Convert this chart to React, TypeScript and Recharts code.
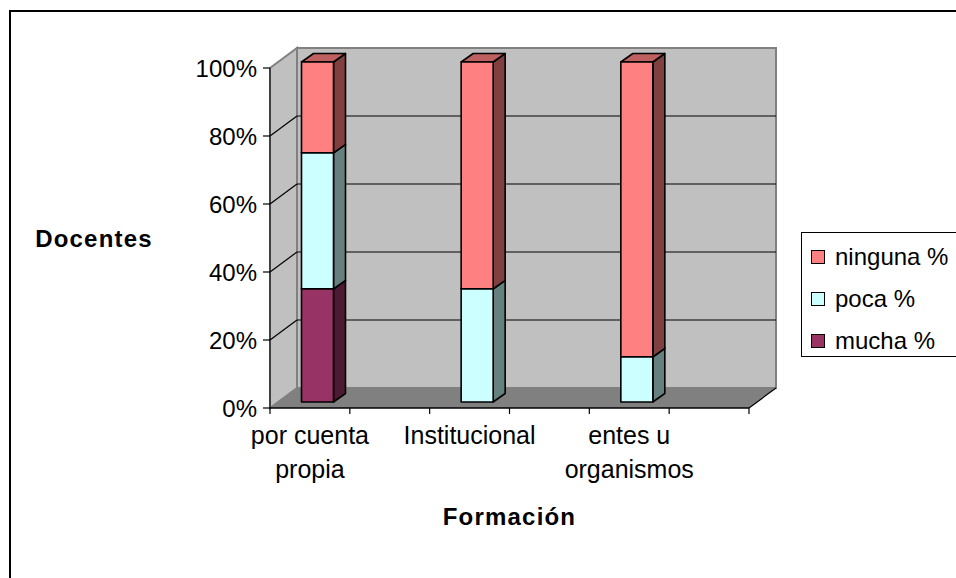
import React from 'react';
import { BarChart, Bar, XAxis, YAxis, CartesianGrid, Legend } from 'recharts';

// blank columns between the three groups, as in the source sheet
const categories = ['por cuenta propia', '', 'Institucional', '', 'entes u organismos', ''];
const mucha = [33.3, null, 0, null, 0, null];
const poca = [40, null, 33.3, null, 13.3, null];
const ninguna = [26.7, null, 66.7, null, 86.7, null];
const yTicks = [0, 20, 40, 60, 80, 100];

const series = [
  { key: 'mucha', name: 'mucha %', front: '#993366', side: '#4D1A33', top: '#73264D' },
  { key: 'poca', name: 'poca %', front: '#CCFFFF', side: '#668080', top: '#99BFBF' },
  { key: 'ninguna', name: 'ninguna %', front: '#FF8080', side: '#804040', top: '#BF6060' },
];

const data = categories.map((name, i) => ({
  name,
  mucha: mucha[i],
  poca: poca[i],
  ninguna: ninguna[i],
}));

const W = 956;
const H = 578;
const PLOT = { left: 270, right: 749, top: 68, bottom: 408 };
const DEPTH = { dx: 27, dy: -20 };
const FRONT = { dx: 7.5, dy: -6 }; // bar front face sits a little behind the axis plane
const BAR_DEPTH = { dx: 12, dy: -8.5 };
const FONT = '"Liberation Sans", Arial, sans-serif';
const FS = 24;

function Bar3D(props: any) {
  const { x, y, width, height, s } = props;
  if (x == null || !height || height <= 0) return null;
  const fx = x + FRONT.dx;
  const fy = y + FRONT.dy;
  const w = width;
  const h = height;
  const { dx, dy } = BAR_DEPTH;
  const stroke = { stroke: '#000', strokeWidth: 1.6, strokeLinejoin: 'round' as const };
  return (
    <g>
      <polygon points={`${fx + w},${fy} ${fx + w + dx},${fy + dy} ${fx + w + dx},${fy + h + dy} ${fx + w},${fy + h}`} fill={s.side} {...stroke} />
      <polygon points={`${fx},${fy} ${fx + dx},${fy + dy} ${fx + w + dx},${fy + dy} ${fx + w},${fy}`} fill={s.top} {...stroke} />
      <rect x={fx} y={fy} width={w} height={h} fill={s.front} {...stroke} />
    </g>
  );
}

function XTick(props: any) {
  const { x, y, payload, index } = props;
  const half = payload?.offset || (PLOT.right - PLOT.left) / categories.length / 2;
  const words = String(payload.value || '').split(' ');
  const lines: string[] = [];
  words.forEach((wd) => {
    const last = lines[lines.length - 1];
    if (last !== undefined && (last + ' ' + wd).length <= 12) lines[lines.length - 1] = last + ' ' + wd;
    else if (wd) lines.push(wd);
  });
  const isLast = index === categories.length - 1;
  return (
    <g>
      <line x1={x - half} x2={x - half} y1={y} y2={y + 6} stroke="#000" strokeWidth={1.2} />
      {isLast && <line x1={x + half} x2={x + half} y1={y} y2={y + 6} stroke="#000" strokeWidth={1.2} />}
      <text x={x} y={y + 36} textAnchor="middle" fontSize={25} fill="#000">
        {lines.map((l, i) => (
          <tspan key={i} x={x} dy={i === 0 ? 0 : 34}>
            {l}
          </tspan>
        ))}
      </text>
    </g>
  );
}

function YTick(props: any) {
  const { x, y, payload } = props;
  const inner = payload.value > 0 && payload.value < 100;
  return (
    <g>
      <line x1={x - 7} x2={x} y1={y} y2={y} stroke="#000" strokeWidth={1.2} />
      {inner && <line x1={x} y1={y} x2={x + DEPTH.dx} y2={y + DEPTH.dy} stroke="#000" strokeWidth={1.2} />}
      <text x={x - 13} y={y} dy="0.36em" textAnchor="end" fontSize={FS} fill="#000">
        {payload.value}%
      </text>
    </g>
  );
}

function LegendBox(props: any) {
  const order = series.map((s) => s.name);
  const items = [...(props.payload || [])].sort((a: any, b: any) => order.indexOf(b.value) - order.indexOf(a.value));
  return (
    <div
      style={{
        border: '1.5px solid #000',
        background: '#fff',
        height: 125,
        boxSizing: 'border-box',
        paddingTop: 3,
        fontFamily: FONT,
        fontSize: FS,
        color: '#000',
      }}
    >
      {items.map((it: any) => (
        <div key={it.value} style={{ display: 'flex', alignItems: 'center', height: 42 }}>
          <span
            style={{
              display: 'inline-block',
              width: 12,
              height: 12,
              marginLeft: 9,
              marginRight: 10,
              background: it.color,
              border: '1.5px solid #000',
            }}
          />
          <span>{it.value}</span>
        </div>
      ))}
    </div>
  );
}

function Walls() {
  const { left, right, top, bottom } = PLOT;
  const { dx, dy } = DEPTH;
  return (
    <svg width={W} height={H} style={{ position: 'absolute', left: 0, top: 0 }}>
      <rect x={left + dx} y={top + dy} width={right - left} height={bottom - top} fill="#C0C0C0" stroke="#808080" strokeWidth={2} />
      <polygon
        points={`${left},${top} ${left + dx},${top + dy} ${left + dx},${bottom + dy} ${left},${bottom}`}
        fill="#C0C0C0"
        stroke="#808080"
        strokeWidth={2}
      />
      <polygon points={`${left},${bottom} ${right},${bottom} ${right + dx},${bottom + dy} ${left + dx},${bottom + dy}`} fill="#808080" />
      <line x1={right} y1={bottom} x2={right + dx} y2={bottom + dy} stroke="#000" strokeWidth={1.2} />
    </svg>
  );
}

export default function App() {
  return (
    <div style={{ position: 'absolute', left: 0, top: 0, width: W, height: H, overflow: 'hidden', background: '#fff' }}>
      <div style={{ position: 'absolute', left: 9, top: 10, width: 1200, height: 1000, border: '2px solid #000' }} />
      <Walls />
      <div style={{ position: 'absolute', left: 0, top: 0 }}>
        <BarChart
          width={W}
          height={H}
          data={data}
          margin={{ top: PLOT.top, right: W - PLOT.right, bottom: 0, left: 0 }}
          style={{ fontFamily: FONT }}
        >
          <CartesianGrid
            vertical={false}
            horizontalValues={[20, 40, 60, 80]}
            horizontal={(p: any) =>
              p.y1 <= PLOT.top + 1 || p.y1 >= PLOT.bottom - 1 ? (
                <g key={p.key} />
              ) : (
                <line
                  key={p.key}
                  x1={p.x1 + DEPTH.dx}
                  x2={p.x2 + DEPTH.dx}
                  y1={p.y1 + DEPTH.dy}
                  y2={p.y2 + DEPTH.dy}
                  stroke="#000"
                  strokeWidth={1.2}
                />
              )
            }
          />
          <XAxis
            dataKey="name"
            interval={0}
            height={H - PLOT.bottom}
            tickSize={0}
            tickMargin={0}
            tickLine={false}
            axisLine={{ stroke: '#000', strokeWidth: 1.5 }}
            tick={<XTick />}
            label={{
              content: (p: any) => (
                <text
                  x={p.viewBox.x + p.viewBox.width / 2}
                  y={p.viewBox.y + 117}
                  textAnchor="middle"
                  fontSize={FS}
                  fontWeight="bold"
                  letterSpacing={1.2}
                  fill="#000"
                >
                  Formación
                </text>
              ),
            }}
          />
          <YAxis
            width={PLOT.left}
            domain={[0, 100]}
            ticks={yTicks}
            interval={0}
            tickSize={0}
            tickMargin={0}
            tickLine={false}
            axisLine={{ stroke: '#000', strokeWidth: 1 }}
            tick={<YTick />}
            label={{
              content: (p: any) => (
                <text
                  x={p.viewBox.x + 94}
                  y={p.viewBox.y + p.viewBox.height / 2}
                  dy="0.36em"
                  textAnchor="middle"
                  fontSize={FS}
                  fontWeight="bold"
                  letterSpacing={1.2}
                  fill="#000"
                >
                  Docentes
                </text>
              ),
            }}
          />
          {series.map((s) => (
            <Bar
              key={s.key}
              dataKey={s.key}
              name={s.name}
              stackId="a"
              fill={s.front}
              barSize={32}
              isAnimationActive={false}
              shape={(p: any) => <Bar3D {...p} s={s} />}
            />
          ))}
          <Legend
            layout="vertical"
            align="center"
            verticalAlign="middle"
            wrapperStyle={{ position: 'absolute', left: 801, top: 232, width: 170 }}
            content={<LegendBox />}
          />
        </BarChart>
      </div>
    </div>
  );
}
